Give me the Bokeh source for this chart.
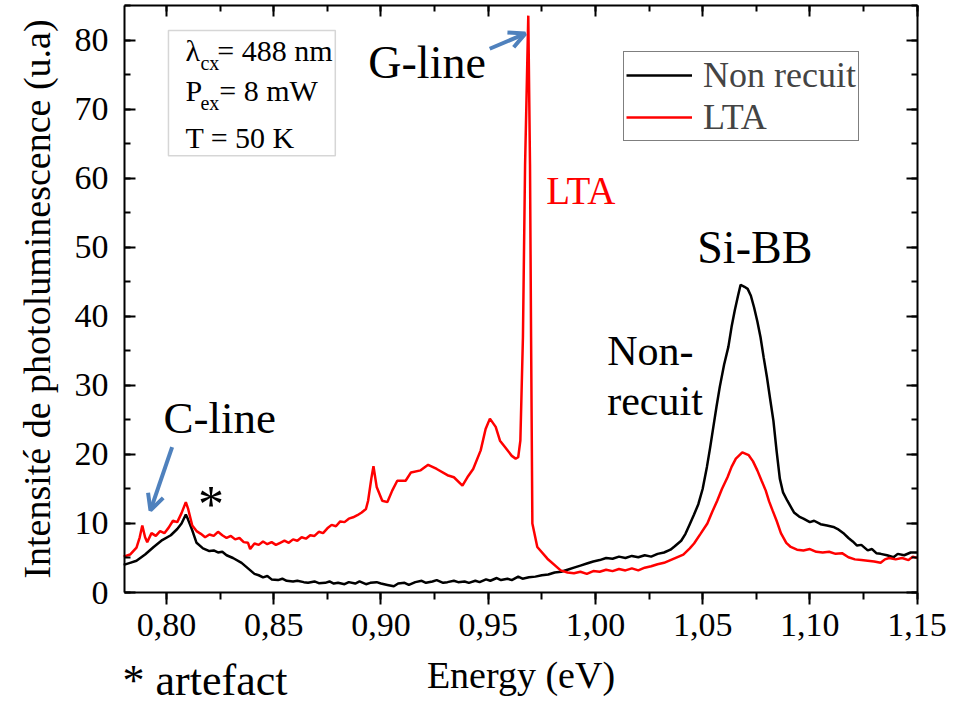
from bokeh.plotting import figure
from bokeh.models import (Range1d, LinearAxis, SingleIntervalTicker, CustomJSTickFormatter,
                          Label, BoxAnnotation, Arrow, OpenHead, Legend, LegendItem)
from bokeh.embed import file_html
from bokeh.resources import INLINE

# ---- data ----
energy_nr = [0.780, 0.783, 0.786, 0.790, 0.794, 0.798, 0.802, 0.805, 0.807, 0.809, 0.810, 0.812,
             0.814, 0.817, 0.820, 0.822, 0.824, 0.826, 0.828, 0.831, 0.835, 0.838, 0.841, 0.843,
             0.845, 0.847, 0.849, 0.852, 0.854, 0.856, 0.859, 0.861, 0.864, 0.866, 0.869, 0.871,
             0.874, 0.876, 0.878, 0.880, 0.883, 0.885, 0.888, 0.890, 0.893, 0.895, 0.898, 0.900,
             0.903, 0.906, 0.908, 0.911, 0.913, 0.916, 0.919, 0.921, 0.924, 0.926, 0.929, 0.931,
             0.934, 0.936, 0.939, 0.941, 0.944, 0.946, 0.949, 0.951, 0.954, 0.956, 0.959, 0.961,
             0.964, 0.966, 0.969, 0.972, 0.975, 0.978, 0.981, 0.984, 0.987, 0.990, 0.993, 0.996,
             0.999, 1.002, 1.005, 1.008, 1.011, 1.014, 1.017, 1.020, 1.023, 1.026, 1.029, 1.032,
             1.035, 1.037, 1.040, 1.042, 1.044, 1.046, 1.048, 1.050, 1.052, 1.0535, 1.055, 1.0565,
             1.058, 1.060, 1.062, 1.0635, 1.065, 1.0665, 1.0677, 1.0695, 1.071, 1.0725, 1.074, 1.0755,
             1.077, 1.0785, 1.080, 1.0815, 1.083, 1.0845, 1.086, 1.0875, 1.0895, 1.0926, 1.095, 1.097,
             1.100, 1.102, 1.105, 1.108, 1.111, 1.113, 1.116, 1.118, 1.120, 1.122, 1.124, 1.127,
             1.129, 1.131, 1.133, 1.136, 1.139, 1.141, 1.144, 1.147, 1.150]
pl_nr = [4.0, 4.3, 4.6, 5.5, 6.6, 7.6, 8.3, 9.2, 10.0, 11.3, 10.6, 9.0,
         7.2, 6.4, 6.0, 6.1, 5.8, 5.9, 5.4, 5.0, 4.3, 3.5, 2.7, 2.5,
         2.2, 2.4, 1.9, 1.8, 2.0, 1.7, 1.6, 1.7, 1.5, 1.4, 1.6, 1.35,
         1.4, 1.6, 1.3, 1.4, 1.2, 1.5, 1.3, 1.6, 1.2, 1.4, 1.5, 1.3,
         1.1, 0.9, 1.3, 1.4, 1.1, 1.5, 1.7, 1.4, 1.6, 1.8, 1.4, 1.5,
         1.7, 1.5, 1.6, 1.4, 1.7, 1.5, 1.9, 1.7, 2.1, 1.8, 2.0, 1.8,
         2.3, 2.0, 2.2, 2.3, 2.5, 2.6, 2.9, 3.0, 3.3, 3.6, 3.9, 4.2,
         4.5, 4.7, 5.0, 4.9, 5.2, 5.0, 5.3, 5.1, 5.4, 5.2, 5.6, 5.8,
         6.2, 6.7, 7.5, 8.5, 9.9, 11.3, 12.8, 15.0, 18.2, 21.0, 24.0, 27.0,
         29.8, 33.0, 35.6, 38.5, 40.9, 43.0, 44.6, 44.3, 44.0, 43.0, 41.3, 39.3,
         37.0, 34.0, 31.2, 28.0, 24.9, 20.5, 16.5, 14.5, 13.3, 11.6, 11.0, 10.7,
         10.2, 10.4, 9.9, 9.7, 9.5, 9.2, 8.5, 7.9, 7.4, 6.8, 6.9, 6.1,
         6.3, 5.7, 5.6, 5.4, 5.1, 5.6, 5.4, 5.8, 5.8]

energy_lta = [0.780, 0.783, 0.786, 0.7875, 0.7887, 0.790, 0.791, 0.793, 0.795, 0.797, 0.799, 0.801,
              0.803, 0.805, 0.807, 0.809, 0.810, 0.812, 0.814, 0.816, 0.818, 0.820, 0.822, 0.824,
              0.826, 0.828, 0.830, 0.832, 0.834, 0.836, 0.838, 0.839, 0.841, 0.843, 0.845, 0.847,
              0.849, 0.851, 0.853, 0.855, 0.857, 0.859, 0.861, 0.863, 0.865, 0.867, 0.869, 0.871,
              0.873, 0.875, 0.877, 0.879, 0.881, 0.883, 0.885, 0.887, 0.889, 0.891, 0.893, 0.894,
              0.8955, 0.8965, 0.898, 0.9006, 0.903, 0.9053, 0.9076, 0.9115, 0.914, 0.9185, 0.922, 0.926,
              0.931, 0.934, 0.938, 0.9403, 0.943, 0.9465, 0.9488, 0.9508, 0.9535, 0.9555, 0.958, 0.961,
              0.9628, 0.964, 0.965, 0.9662, 0.9672, 0.9687, 0.9695, 0.9700, 0.9706, 0.9729, 0.9776, 0.9838,
              0.987, 0.990, 0.993, 0.996, 0.999, 1.002, 1.005, 1.008, 1.011, 1.014, 1.017, 1.020,
              1.023, 1.026, 1.029, 1.032, 1.035, 1.038, 1.041, 1.044, 1.046, 1.049, 1.0522, 1.0545,
              1.0568, 1.059, 1.0616, 1.0635, 1.0655, 1.0685, 1.0715, 1.0735, 1.0755, 1.0775, 1.0794, 1.081,
              1.0826, 1.0845, 1.0865, 1.089, 1.0911, 1.094, 1.097, 1.100, 1.103, 1.106, 1.109, 1.112,
              1.115, 1.118, 1.121, 1.124, 1.127, 1.130, 1.133, 1.135, 1.137, 1.140, 1.143, 1.146,
              1.148, 1.150]
pl_lta = [5.2, 5.5, 6.5, 8.0, 9.7, 8.0, 7.3, 8.6, 8.2, 8.9, 8.6, 9.4,
          10.4, 10.2, 11.5, 13.1, 12.2, 9.7, 8.9, 8.5, 8.0, 8.4, 8.2, 8.8,
          8.3, 7.9, 8.2, 7.7, 7.9, 7.3, 7.2, 6.3, 7.1, 6.9, 7.4, 7.0,
          7.3, 6.9, 7.2, 7.5, 7.2, 7.7, 7.5, 8.0, 7.8, 8.3, 8.2, 8.8,
          8.6, 9.3, 9.8, 9.6, 10.3, 10.2, 10.7, 10.9, 11.2, 11.6, 12.1, 13.3,
          16.5, 18.3, 15.3, 13.3, 13.1, 14.8, 16.2, 16.2, 17.4, 17.7, 18.5, 17.9,
          17.0, 16.7, 15.5, 16.7, 17.9, 20.6, 23.7, 25.2, 24.0, 22.0, 21.0, 19.8,
          19.4, 19.6, 22.0, 37.0, 62.0, 83.6, 62.0, 37.0, 10.0, 6.6, 4.9, 3.2,
          2.9, 2.8, 3.0, 2.7, 3.1, 3.0, 3.3, 3.1, 3.4, 3.2, 3.5, 3.2,
          3.6, 3.8, 4.1, 4.3, 4.7, 5.1, 5.5, 6.4, 7.1, 8.5, 10.0, 11.7,
          13.3, 15.0, 16.7, 18.2, 19.4, 20.3, 19.9, 19.0, 17.7, 16.2, 14.8, 13.2,
          11.9, 10.4, 8.6, 7.2, 6.6, 6.2, 6.1, 6.3, 5.9, 5.8, 5.9, 5.6,
          5.7, 5.1, 4.8, 4.7, 4.6, 4.5, 4.3, 4.8, 5.0, 4.8, 5.0, 4.7,
          5.2, 5.0]

series_labels = ["Non recuit", "LTA"]
x_tick_step = 0.05
y_tick_step = 10
X_MIN, X_MAX = 0.7804, 1.1502     # axis extent
Y_MIN, Y_MAX = 0.0, 85.07

# frame geometry (pixels): plot box 124..917 x 5..592 inside a 965x705 canvas
W, H = 965, 705
BL, BR, BT, BB = 124, 48, 5, 113
kx = (W - BL - BR) / (X_MAX - X_MIN)
ky = (H - BT - BB) / (Y_MAX - Y_MIN)

FONT = "Liberation Serif"
BLUE = "#4F81BD"

p = figure(width=W, height=H,
           x_range=Range1d(X_MIN - BL / kx, X_MAX + BR / kx),
           y_range=Range1d(Y_MIN - BB / ky, Y_MAX + BT / ky),
           output_backend="svg", toolbar_location=None,
           x_axis_location=None, y_axis_location=None,
           min_border_left=0, min_border_right=0, min_border_top=0, min_border_bottom=0)
p.title.visible = False
p.grid.visible = False
p.background_fill_color = "white"
p.border_fill_color = "white"
p.outline_line_color = None

fmt_x = CustomJSTickFormatter(code="return tick.toFixed(2).replace('.', ',');")
fmt_y = CustomJSTickFormatter(code="return tick.toFixed(0);")

def common(ax):
    ax.axis_line_width = 2
    ax.major_tick_line_width = 2
    ax.minor_tick_line_width = 2
    ax.major_label_text_color = "black"
    ax.axis_label_text_color = "black"
    ax.axis_label_text_font_style = "normal"
    ax.major_label_text_font = FONT
    ax.axis_label_text_font = FONT

bottom = LinearAxis(fixed_location=Y_MIN, bounds=(X_MIN, X_MAX), axis_label="Energy (eV)",
                    ticker=SingleIntervalTicker(interval=x_tick_step, num_minor_ticks=2), formatter=fmt_x,
                    major_tick_in=0, major_tick_out=12, minor_tick_in=0, minor_tick_out=7,
                    major_label_standoff=9, axis_label_standoff=15,
                    major_label_text_font_size="34px", axis_label_text_font_size="38px")
left = LinearAxis(fixed_location=X_MIN, bounds=(Y_MIN, Y_MAX),
                  axis_label="Intensité de photoluminescence (u.a)",
                  ticker=SingleIntervalTicker(interval=y_tick_step, num_minor_ticks=2), formatter=fmt_y,
                  major_tick_in=11, major_tick_out=0, minor_tick_in=6, minor_tick_out=0,
                  major_label_standoff=16, axis_label_standoff=14,
                  major_label_text_font_size="34px", axis_label_text_font_size="38px")
top = LinearAxis(fixed_location=Y_MAX, bounds=(X_MIN, X_MAX),
                 ticker=SingleIntervalTicker(interval=x_tick_step, num_minor_ticks=2),
                 major_label_text_font_size="0px", major_label_text_alpha=0,
                 major_tick_in=11, major_tick_out=0, minor_tick_in=6, minor_tick_out=0)
right = LinearAxis(fixed_location=X_MAX, bounds=(Y_MIN, Y_MAX),
                   ticker=SingleIntervalTicker(interval=y_tick_step, num_minor_ticks=2),
                   major_label_text_font_size="0px", major_label_text_alpha=0,
                   major_tick_in=11, major_tick_out=0, minor_tick_in=6, minor_tick_out=0)
for ax in (bottom, left, top, right):
    common(ax)
p.add_layout(bottom, "below")
p.add_layout(left, "left")
p.add_layout(top, "above")
p.add_layout(right, "right")

r_nr = p.line(energy_nr, pl_nr, line_color="black", line_width=2.5)
r_lta = p.line(energy_lta, pl_lta, line_color="#ff0000", line_width=2.5)

legend = Legend(items=[LegendItem(label=series_labels[0], renderers=[r_nr]),
                       LegendItem(label=series_labels[1], renderers=[r_lta])],
                location=(623, H - 141), label_text_font=FONT, label_text_font_size="36px",
                glyph_width=66, glyph_height=34, label_height=34, label_standoff=11,
                padding=2, spacing=0, margin=0, border_line_color="black", border_line_width=1,
                background_fill_color="white", background_fill_alpha=1)
p.add_layout(legend)

# inset parameter box
p.add_layout(BoxAnnotation(left=0.8009, right=0.8787, bottom=63.3, top=81.45,
                           fill_color="white", fill_alpha=1, line_color="#777777", line_width=1.5))

def lab(x, y, text, size, color="black", lift=0.34):
    # baseline given in data units; Bokeh draws it ~0.34 em lower, so lift accordingly
    px = float(size.replace("px", ""))
    p.add_layout(Label(x=x, y=y + lift * px / ky, text=text, text_font=FONT, text_font_size=size,
                       text_color=color, text_baseline="alphabetic", text_align="left"))

lab(0.8088, 77.0, "λ", "30px")
lab(0.8158, 75.7, "cx", "20px")
lab(0.8237, 77.0, "= 488 nm", "30px")
lab(0.8088, 71.3, "P", "30px")
lab(0.8158, 70.0, "ex", "20px")
lab(0.8246, 71.3, "= 8 mW", "30px")
lab(0.8088, 64.5, "T = 50 K", "30px")

lab(0.8941, 74.6, "G-line", "46px")
lab(0.7986, 23.0, "C-line", "45px")
lab(1.0475, 47.8, "Si-BB", "46px")
lab(0.9771, 56.4, "LTA", "39px", color="#ff0000")
lab(1.0055, 32.9, "Non-", "42px")
lab(1.0055, 25.7, "recuit", "42px")
lab(0.8147, 12.8, "*", "52px", lift=0.0)
lab(0.7795, -14.9, "* artefact", "44px")

p.add_layout(Arrow(end=OpenHead(size=16, line_color=BLUE, line_width=4),
                   x_start=0.8026, y_start=21.06, x_end=0.7925, y_end=11.9,
                   line_color=BLUE, line_width=4))
p.add_layout(Arrow(end=OpenHead(size=16, line_color=BLUE, line_width=4),
                   x_start=0.9507, y_start=78.8, x_end=0.9673, y_end=81.0,
                   line_color=BLUE, line_width=4))

open("out.html", "w").write(file_html(p, INLINE))
